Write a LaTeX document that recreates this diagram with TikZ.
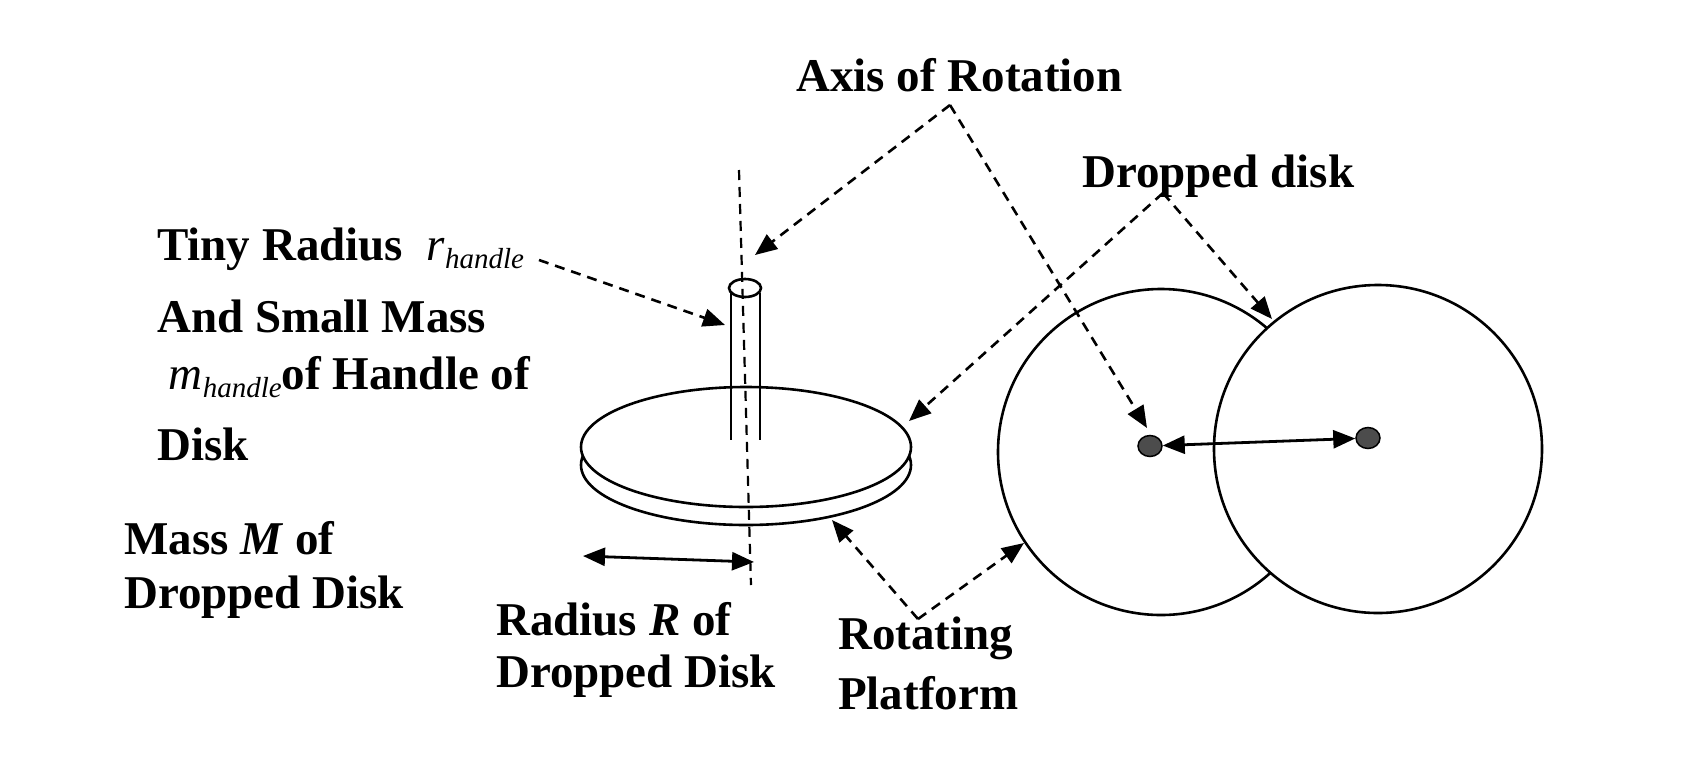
\documentclass[tikz,border=0pt]{standalone}
\usepackage{fontspec}
\setmainfont{Liberation Serif}
\usetikzlibrary{arrows.meta,shapes.geometric}
\begin{document}
\begin{tikzpicture}[x=1pt,y=-1pt,
  lbl/.style={font=\fontsize{47}{50}\selectfont\bfseries, inner sep=0pt, anchor=west},
  dsh/.style={line width=2.6pt, dash pattern=on 10pt off 7pt, -{Triangle[length=22pt,width=18pt]}},
  ln/.style={line width=2.6pt},
  dbl/.style={line width=2.8pt, {Triangle[length=22pt,width=18pt]}-{Triangle[length=22pt,width=18pt]}},
  dot/.style={ellipse, fill=black!70, draw=black, line width=1.5pt, minimum width=24pt, minimum height=21pt, inner sep=0pt}]
\useasboundingbox (0,0) rectangle (1698,780);
% disk
\draw[ln] (746,465) ellipse[x radius=165,y radius=60];
\draw[ln,fill=white] (746,447) ellipse[x radius=165,y radius=60];
% handle
\draw[ln] (731,293) -- (731,440) (760,293) -- (760,440);
\draw[ln,fill=white] (745,288) ellipse[x radius=16,y radius=9];
% axis
\draw[line width=2.2pt, dash pattern=on 10pt off 7pt] (739,170) -- (751,585);
% circles
\draw[ln] (1161,452) circle[radius=163];
\draw[ln,fill=white] (1378,449) circle[radius=164];
\node[dot] (d1) at (1150,446) {};
\node[dot] (d2) at (1368,438) {};
\draw[dbl] (d1) -- (d2);
% radius arrow
\coordinate (ra) at (583,556);
\coordinate (rb) at (754,562);
\draw[dbl] (ra) -- (rb);
% labels
\node[lbl] (axis) at (796,75) {Axis of Rotation};
\node[lbl] (drop) at (1082,176) {Dropped disk};
\node[lbl] (t1) at (157,249) {Tiny Radius \ \textit{\mdseries r}\raisebox{-8pt}{\fontsize{29}{30}\selectfont\itshape\mdseries handle}};
\node[lbl] at (157,316) {And Small Mass};
\node[lbl] at (157,377) {\ \textit{\mdseries m}\raisebox{-8pt}{\fontsize{29}{30}\selectfont\itshape\mdseries handle}of Handle of};
\node[lbl] at (157,444) {Disk};
\node[lbl] at (124,538) {Mass \textit{M} of};
\node[lbl] at (124,597) {Dropped Disk};
\node[lbl] at (496,619) {Radius \textit{R} of};
\node[lbl] at (496,676) {Dropped Disk};
\node[lbl] (rp) at (838,638) {Rotating};
\node[lbl] at (838,693) {Platform};
% connectors
\coordinate (af) at (950,105);
\coordinate (df) at (1163,193);
\coordinate (rf) at (918,619);
\draw[dsh] (af) -- (755,255);
\draw[dsh] (af) -- (1147,428);
\draw[dsh] (df) -- (909,421);
\draw[dsh] (df) -- (1272,319);
\draw[dsh] (rf) -- (832,520);
\draw[dsh] (rf) -- (1024,543);
\draw[dsh] (539,260) -- (725,325);
\end{tikzpicture}
\end{document}
